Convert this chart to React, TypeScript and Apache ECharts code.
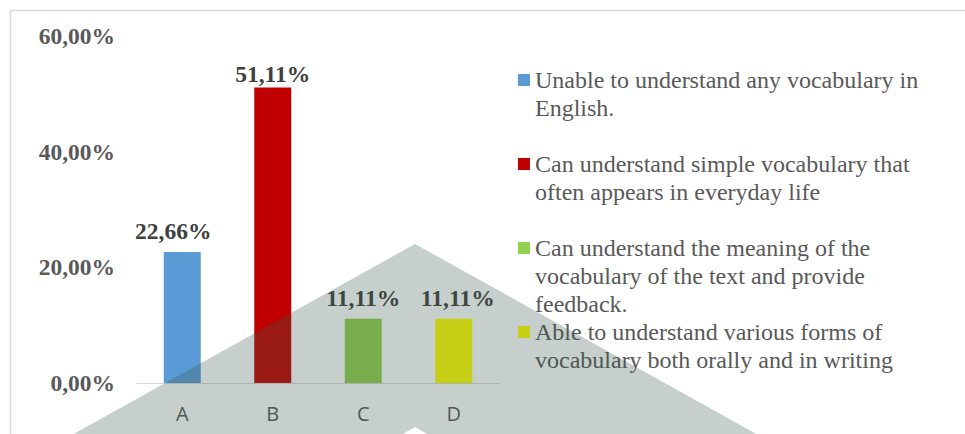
import React, { useEffect, useRef } from "react";
import * as echarts from "echarts";

const categories = ["A", "B", "C", "D"];
const values = [22.66, 51.11, 11.11, 11.11];
const seriesNames = [
  "Unable to understand any vocabulary in English.",
  "Can understand simple vocabulary that often appears in everyday life",
  "Can understand the meaning of the vocabulary of the text and provide feedback.",
  "Able to understand various forms of vocabulary both orally and in writing",
];
const legendLines = [
  ["Unable to understand any vocabulary in", "English."],
  ["Can understand simple vocabulary that", "often appears in everyday life"],
  ["Can understand the meaning of the", "vocabulary of the text and provide", "feedback."],
  ["Able to understand various forms of", "vocabulary both orally and in writing"],
];
const colors = ["#5B9BD5", "#C00000", "#92D050", "#FFFF00"];
const yMin = 0;
const yMax = 60;
const yStep = 20;

const pct = (v: number) => v.toFixed(2).replace(".", ",") + "%";

const labelTweaks: any[] = [
  { offset: [-9, 0] },
  { distance: 1 },
  {},
  { offset: [4, 0] },
];

export default function App() {
  const ref = useRef<HTMLDivElement>(null);
  useEffect(() => {
    if (!ref.current) return;
    const chart = echarts.init(ref.current, null, { renderer: "svg" });
    const serif = "'Liberation Serif', 'Times New Roman', serif";
    chart.setOption({
      animation: false,
      backgroundColor: "#ffffff",
      grid: { left: 137, right: 466, top: 36, bottom: 51, containLabel: false },
      legend: {
        orient: "vertical",
        left: 518,
        top: 66,
        padding: 0,
        itemGap: 0,
        itemWidth: 12,
        itemHeight: 84,
        icon: "path://M0,0L12,0M0,8L12,8L12,20L0,20ZM0,84L12,84",
        selectedMode: false,
        data: seriesNames,
        formatter: (name: string) => {
          const i = seriesNames.indexOf(name);
          const lines = legendLines[i].slice();
          while (lines.length < 3) lines.push("");
          return lines.join("\n");
        },
        textStyle: {
          fontFamily: serif,
          fontSize: 24,
          lineHeight: 28,
          color: "#595959",
        },
      },
      xAxis: {
        type: "category",
        data: categories,
        axisLine: { lineStyle: { color: "#d9d9d9", width: 1 } },
        axisTick: { show: false },
        axisLabel: {
          margin: 20,
          fontFamily: "'Open Sans', sans-serif",
          fontSize: 20,
          color: "#595959",
        },
      },
      yAxis: {
        type: "value",
        min: yMin,
        max: yMax,
        interval: yStep,
        axisLine: { show: false },
        axisTick: { show: false },
        splitLine: { show: false },
        axisLabel: {
          margin: 22,
          fontFamily: serif,
          fontWeight: "bold",
          fontSize: 23.5,
          color: "#595959",
          formatter: (v: number) => pct(v),
        },
      },
      series: categories.map((c, i) => ({
        type: "bar",
        name: seriesNames[i],
        barWidth: 37,
        barGap: "-100%",
        itemStyle: { color: colors[i] },
        label: {
          show: true,
          position: "top",
          distance: 9,
          fontFamily: serif,
          fontWeight: "bold",
          fontSize: 23.5,
          color: "#404040",
          formatter: (p: any) => pct(p.value),
        },
        data: values.map((v, j) =>
          j === i ? { value: v, label: labelTweaks[i] } : null
        ),
      })),
      graphic: [
        {
          type: "polyline",
          z: 1,
          shape: { points: [[10.5, 434], [10.5, 10.5], [965, 10.5]] },
          style: { stroke: "#d9d9d9", lineWidth: 1.5, fill: null },
          silent: true,
        },
        {
          type: "polygon",
          z: 100,
          shape: {
            points: [
              [415, 244],
              [760, 436],
              [431, 436],
              [415, 427],
              [399, 436],
              [70, 436],
            ],
          },
          style: { fill: "rgba(56,87,73,0.286)" },
          silent: true,
        },
      ],
    });
    return () => chart.dispose();
  }, []);
  return (
    <div
      ref={ref}
      style={{ position: "absolute", left: 0, top: 0, width: 965, height: 434 }}
    />
  );
}
